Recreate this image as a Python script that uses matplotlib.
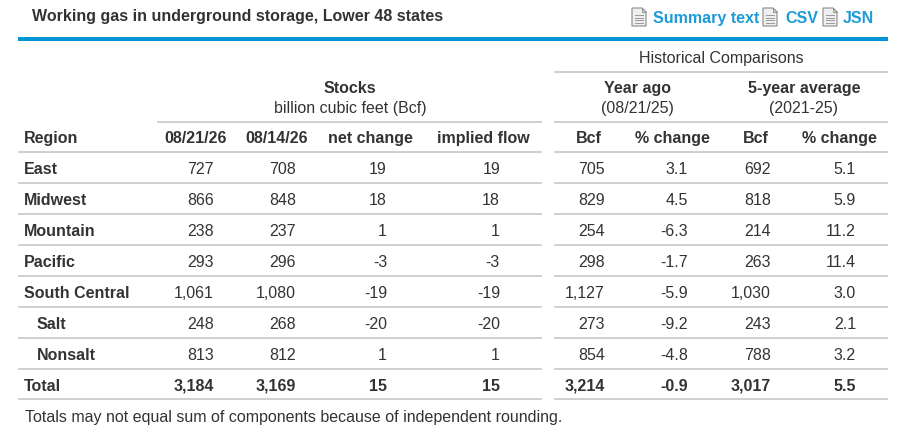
import matplotlib
matplotlib.use("Agg")
import matplotlib.pyplot as plt
from matplotlib.patches import Rectangle, Polygon

# table data
regions = ["East", "Midwest", "Mountain", "Pacific", "South Central", "Salt", "Nonsalt", "Total"]
stocks_cur = [727, 866, 238, 293, 1061, 248, 813, 3184]
stocks_prev = [708, 848, 237, 296, 1080, 268, 812, 3169]
net_change = [19, 18, 1, -3, -19, -20, 1, 15]
implied_flow = [19, 18, 1, -3, -19, -20, 1, 15]
year_ago_bcf = [705, 829, 254, 298, 1127, 273, 854, 3214]
year_ago_pct = [3.1, 4.5, -6.3, -1.7, -5.9, -9.2, -4.8, -0.9]
avg5_bcf = [692, 818, 214, 263, 1030, 243, 788, 3017]
avg5_pct = [5.1, 5.9, 11.2, 11.4, 3.0, 2.1, 3.2, 5.5]
col_headers = ["08/21/26", "08/14/26", "net change", "implied flow", "Bcf", "% change", "Bcf", "% change"]
links = ["Summary text", "CSV", "JSN"]

plt.rcParams["font.family"] = ["Liberation Sans", "DejaVu Sans"]
TXT = "#333333"
GRID = "#cfcfcf"
BLUE = "#0096d6"
LINK = "#1c9bd8"
FS = 11.5  # ~16px at 100 dpi

fig = plt.figure(figsize=(9.1, 4.39), dpi=100)
ax = fig.add_axes([0, 0, 1, 1])
ax.set_xlim(0, 910)
ax.set_ylim(439, 0)
ax.axis("off")

# title and links
ax.text(32, 20.7, "Working gas in underground storage, Lower 48 states",
        fontsize=FS, fontweight="bold", color=TXT, va="baseline")


def doc_icon(x, y, w=14, h=18):
    fold = 4
    pts = [(x, y), (x + w - fold, y), (x + w, y + fold), (x + w, y + h), (x, y + h)]
    ax.add_patch(Polygon(pts, closed=True, facecolor="#eeeeee", edgecolor="#8a8a8a", lw=0.8))
    ax.add_patch(Polygon([(x + w - fold, y), (x + w - fold, y + fold), (x + w, y + fold)],
                         closed=True, facecolor="#d8d8d8", edgecolor="#8a8a8a", lw=0.6))
    for k in range(4):
        yy = y + 7 + k * 2.7
        ax.plot([x + 3, x + w - 3], [yy, yy], color="#9a9a9a", lw=0.7)


link_x = [653, 785, 843]
icon_x = [632, 763, 823]
for lx, ix, name in zip(link_x, icon_x, links):
    doc_icon(ix, 9)
    ax.text(lx, 22.7, name, fontsize=FS, fontweight="bold", color=LINK, va="baseline")

ax.add_patch(Rectangle((18, 38), 870, 4, facecolor=BLUE, edgecolor="none"))

# group headers
ax.text(721, 62.7, "Historical Comparisons", fontsize=FS, color=TXT, ha="center", va="baseline")
ax.hlines(72.5, 554, 888, color=GRID, lw=1.4)
ax.text(350, 93.3, "Stocks", fontsize=FS, fontweight="bold", color=TXT, ha="center", va="baseline")
ax.text(350, 112.7, "billion cubic feet (Bcf)", fontsize=FS, color=TXT, ha="center", va="baseline")
ax.text(637, 93.3, "Year ago", fontsize=FS, fontweight="bold", color=TXT, ha="center", va="baseline")
ax.text(637, 112.7, "(08/21/25)", fontsize=FS, color=TXT, ha="center", va="baseline")
ax.text(804, 93.3, "5-year average", fontsize=FS, fontweight="bold", color=TXT, ha="center", va="baseline")
ax.text(804, 112.7, "(2021-25)", fontsize=FS, color=TXT, ha="center", va="baseline")
ax.hlines(122.5, 157, 542, color=GRID, lw=1.4)
ax.hlines(122.5, 554, 888, color=GRID, lw=1.4)

# column header row
head_right = [227, 308, 413, 530, 602, 710, 769, 877]
ax.text(24, 142.7, "Region", fontsize=FS, fontweight="bold", color=TXT, va="baseline")
for xr, h in zip(head_right, col_headers):
    ax.text(xr, 142.7, h, fontsize=FS, fontweight="bold", color=TXT, ha="right", va="baseline")

row_h = 30.9
line0 = 153.3
base0 = 174.3
val_right = [214, 296, 387, 500, 605, 688, 771, 856]

for k in range(len(regions) + 1):
    y = line0 + k * row_h
    ax.hlines(y, 18, 542, color=GRID, lw=1.4)
    ax.hlines(y, 554, 888, color=GRID, lw=1.4)

for i, reg in enumerate(regions):
    yb = base0 + i * row_h
    bold = reg == "Total"
    indent = 37 if reg in ("Salt", "Nonsalt") else 24
    ax.text(indent, yb, reg, fontsize=FS, fontweight="bold", color=TXT, va="baseline")
    cells = [f"{stocks_cur[i]:,}", f"{stocks_prev[i]:,}", f"{net_change[i]}", f"{implied_flow[i]}",
             f"{year_ago_bcf[i]:,}", f"{year_ago_pct[i]:.1f}", f"{avg5_bcf[i]:,}", f"{avg5_pct[i]:.1f}"]
    for xr, c in zip(val_right, cells):
        ax.text(xr, yb, c, fontsize=FS, fontweight="bold" if bold else "normal",
                color=TXT, ha="right", va="baseline")

ax.text(25, 421.7, "Totals may not equal sum of components because of independent rounding.",
        fontsize=FS, color=TXT, va="baseline")

fig.savefig("out.png", dpi=100)
